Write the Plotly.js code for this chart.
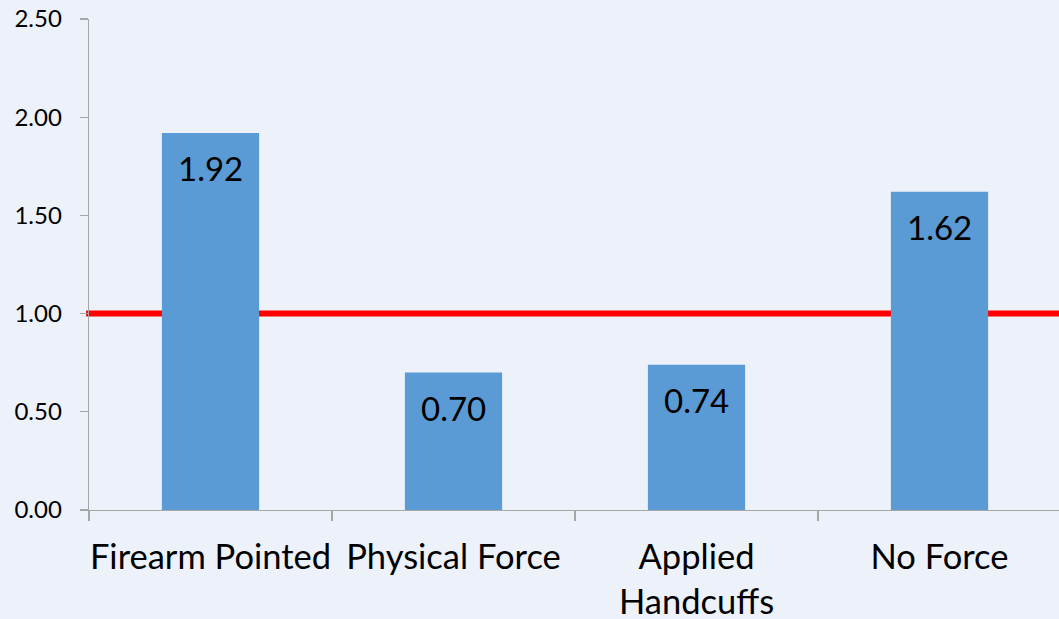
<!DOCTYPE html>
<html>
<head>
<meta charset="utf-8">
<script src="https://cdn.plot.ly/plotly-3.0.1.min.js"></script>
<style>html,body{margin:0;padding:0;overflow:hidden;background:#edf1f9;}</style>
</head>
<body>
<div id="chart" style="width:1061px;height:619px;"></div>
<script>
const categories = ["Firearm Pointed", "Physical Force", "Applied<br>Handcuffs", "No Force"];
const values = [1.92, 0.70, 0.74, 1.62];
const valueLabels = ["1.92", "0.70", "0.74", "1.62"];
const referenceLevel = 1.0;

const font = "Lato, 'Open Sans', sans-serif";

const trace = {
  type: "bar",
  x: categories,
  y: values,
  marker: {color: "#5b9bd5"},
  hoverinfo: "none"
};

const annotations = categories.map((c, i) => ({
  x: c, y: values[i], xref: "x", yref: "y",
  text: valueLabels[i], showarrow: false,
  yanchor: "middle", yshift: -35,
  font: {family: font, size: 33, color: "#000"}
}));

const layout = {
  width: 1061, height: 619,
  margin: {l: 89, r: 0, t: 19, b: 109},
  paper_bgcolor: "#edf1f9",
  plot_bgcolor: "#edf1f9",
  bargap: 0.6,
  showlegend: false,
  xaxis: {
    type: "category",
    showline: true, linecolor: "#a6a6a6", linewidth: 1.3,
    ticks: "outside", tickson: "boundaries", ticklen: 10, tickcolor: "#a6a6a6", tickwidth: 1.3,
    tickangle: 0,
    tickfont: {family: font, size: 34.5, color: "#000"},
    ticklabelstandoff: 16,
    showgrid: false, zeroline: false
  },
  yaxis: {
    range: [0, 2.5], dtick: 0.5, tickformat: ".2f",
    showline: true, linecolor: "#a6a6a6", linewidth: 1.3,
    ticks: "outside", ticklen: 8, tickcolor: "#a6a6a6", tickwidth: 1.3,
    tickfont: {family: font, size: 24, color: "#000"},
    ticklabelstandoff: 13,
    showgrid: false, zeroline: false
  },
  shapes: [{
    type: "line", xref: "paper", yref: "y",
    x0: -0.003, x1: 1, y0: referenceLevel, y1: referenceLevel,
    line: {color: "#ff0000", width: 6},
    layer: "below"
  }],
  annotations: annotations
};

Plotly.newPlot("chart", [trace], layout, {displayModeBar: false, staticPlot: true});
</script>
</body>
</html>
